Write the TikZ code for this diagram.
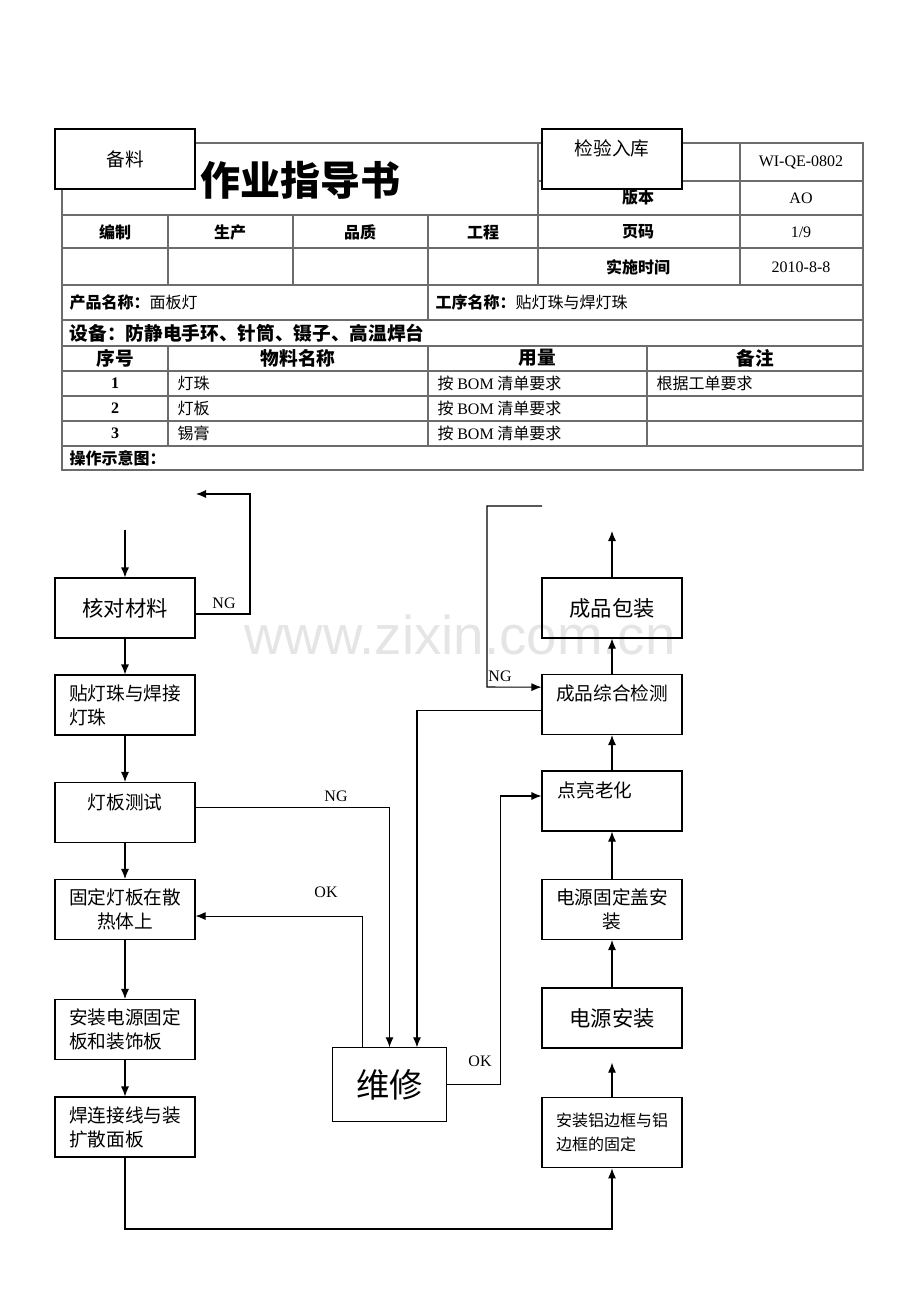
\documentclass[tikz,border=0pt]{standalone}
\usepackage{fontspec}
\setmainfont{Liberation Serif}
\newfontfamily\cjk{Noto Sans CJK SC}
\newfontfamily\wmfont{Liberation Sans}
\usetikzlibrary{shapes,arrows,arrows.meta,positioning,calc}

\newcommand{\fs}[1]{\fontsize{#1}{18pt}\selectfont}

\tikzset{
  grid/.style={draw=gray!85!black, line width=0.8pt},
  box/.style={draw, line width=0.8pt, fill=white, minimum width=105pt,
    minimum height=45pt, inner sep=0pt, align=center, font=\cjk\fs{14pt}},
  flow/.style={line width=0.8pt, -{Latex[length=7.5pt,width=6pt]}},
  tag/.style={font=\fs{12pt}},
  hd/.style={font=\cjk\bfseries\fs{12pt}},
  cell/.style={font=\cjk\fs{12pt}, anchor=west}
}

\begin{document}
\begin{tikzpicture}[x=0.75pt,y=-0.75pt]
\useasboundingbox[fill=white] (0,0) rectangle (920,1302);

% Table
\draw[grid] (62,143) rectangle (863,470);
\draw[grid] (538,143) -- (538,285);
\draw[grid] (740,143) -- (740,285);
\draw[grid] (538,181) -- (863,181);
\foreach \y in {215,248,285,320,346,371,396,421,446}
  \draw[grid] (62,\y) -- (863,\y);
\foreach \x in {168,293,428}
  \draw[grid] (\x,215) -- (\x,285);
\draw[grid] (428,285) -- (428,320);
\foreach \x in {168,428,647}
  \draw[grid] (\x,346) -- (\x,446);

\node[font=\cjk\bfseries\fontsize{30pt}{30pt}\selectfont] (title) at (300,180) {作业指导书};
\node[tag] (code) at (801,162) {WI-QE-0802};
\node[hd] (ver) at (638,198) {版本};
\node[tag] (vernum) at (801,198) {AO};
\node[hd] (bz) at (115,232) {编制};
\node[hd] (sc) at (230,232) {生产};
\node[hd] (pz) at (360,232) {品质};
\node[hd] (gc) at (483,232) {工程};
\node[hd] (ym) at (638,232) {页码};
\node[tag] (page) at (801,232) {1/9};
\node[hd] (ss) at (638,267) {实施时间};
\node[tag] (date) at (801,267) {2010-8-8};
\node[cell] (prod) at (65,302) {\textbf{产品名称：}面板灯};
\node[cell] (proc) at (431,302) {\textbf{工序名称：}贴灯珠与焊灯珠};
\node[cell, font=\cjk\bfseries\fs{14pt}] (equip) at (65,333) {设备：防静电手环、针筒、镊子、高温焊台};
\node[hd, font=\cjk\bfseries\fs{14pt}] (h1) at (115,358) {序号};
\node[hd, font=\cjk\bfseries\fs{14pt}] (h2) at (298,358) {物料名称};
\node[hd, font=\cjk\bfseries\fs{14pt}] (h3) at (537,358) {用量};
\node[hd, font=\cjk\bfseries\fs{14pt}] (h4) at (755,358) {备注};
\foreach \n/\m [count=\i] in {灯珠/383.5, 灯板/408.5, 锡膏/433.5} {
  \node[tag, font=\bfseries\fs{12pt}] at (115,\m) {\i};
  \node[cell] at (173,\m) {\n};
  \node[cell] at (433,\m) {按 \textrm{\rmfamily BOM} 清单要求};
}
\node[cell] (note) at (652,383.5) {根据工单要求};
\node[cell, font=\cjk\bfseries\fs{12pt}] (op) at (65,458) {操作示意图：};

% Top boxes
\node[box] (beiliao) at (125,159) {备料};
\node[box] (jianyan) at (612,159) {};
\node[font=\cjk\fs{14pt}] (jianyantxt) at (612,148) {检验入库};

% Left column
\node[box, font=\cjk\fs{16pt}] (hedui) at (125,608) {核对材料};
\node[box, align=left] (tie) at (125,705) {贴灯珠与焊接\\灯珠};
\node[box] (ceshi) at (125,812.5) {};
\node[font=\cjk\fs{14pt}] (ceshitxt) at (125,802) {灯板测试};
\node[box] (guding) at (125,909.5) {固定灯板在散\\热体上};
\node[box, align=left] (anzhuang) at (125,1029.5) {安装电源固定\\板和装饰板};
\node[box, align=left] (hanlian) at (125,1127) {焊连接线与装\\扩散面板};

% Right column
\node[box, font=\cjk\fs{16pt}] (baozhuang) at (612,608) {成品包装};
\node[box] (zonghe) at (612,704.5) {};
\node[font=\cjk\fs{14pt}] (zonghetxt) at (612,693) {成品综合检测};
\node[box] (laohua) at (612,801) {};
\node[font=\cjk\fs{14pt}, anchor=west] (laohuatxt) at (553,790) {点亮老化};
\node[box] (gai) at (612,909.5) {电源固定盖安\\装};
\node[box, font=\cjk\fs{16pt}] (dianyuan) at (612,1018) {电源安装};
\node[box, align=left, minimum height=53pt, font=\cjk\fs{12pt}] (lvkuang) at (612,1132.5) {安装铝边框与铝\\边框的固定};

% Repair
\node[box, minimum width=85pt, minimum height=55pt, font=\cjk\fontsize{25pt}{25pt}\selectfont] (weixiu) at (389.5,1084.5) {维修};

% Connectors
\coordinate (start) at (125,530);
\coordinate (ngup) at (250,494);
\coordinate (ngback) at (196,494);
\coordinate (bend) at (125,1229);
\coordinate (ngfree) at (542,506);
\coordinate (ngleft) at (487,687);
\coordinate (out) at (612,531);

\draw[flow] (start) -- (hedui);
\draw[flow] ([yshift=-4.5pt]hedui.east) -| (ngup) -- (ngback);
\draw[flow] (hedui) -- (tie);
\draw[flow] (tie) -- (ceshi);
\draw[flow] (ceshi) -- (guding);
\draw[flow] (guding) -- (anzhuang);
\draw[flow] (anzhuang) -- (hanlian);
\draw[flow] (hanlian.south) -- (bend) -| (lvkuang.south);
\draw[flow] (lvkuang.north) -- ++(0,-34);
\draw[flow] (dianyuan) -- (gai);
\draw[flow] (gai) -- (laohua);
\draw[flow] (laohua) -- (zonghe);
\draw[flow] (zonghe) -- (baozhuang);
\draw[flow] (baozhuang.north) -- (out);
\draw[flow] (ngfree) -| (ngleft) -- ([yshift=13pt]zonghe.west);
\draw[flow] ([yshift=4pt]ceshi.east) -| (weixiu.north);
\draw[flow] ([yshift=-4.2pt]zonghe.west) -| ([xshift=20.6pt]weixiu.north);
\draw[flow] ([xshift=-20.6pt]weixiu.north) |- ([yshift=-4.9pt]guding.east);
\draw[flow] (weixiu.east) -- ++(54,0) |- ([yshift=3.75pt]laohua.west);

% Labels
\node[tag] (ng1) at (224,603) {NG};
\node[tag] (ng2) at (500,676) {NG};
\node[tag] (ng3) at (336,796) {NG};
\node[tag] (ok1) at (326,892) {OK};
\node[tag] (ok2) at (480,1061) {OK};

% watermark
\node[font=\wmfont\fontsize{41pt}{41pt}\selectfont, text=black, text opacity=0.1] (wm) at (460,635) {www.zixin.com.cn};
\end{tikzpicture}
\end{document}
